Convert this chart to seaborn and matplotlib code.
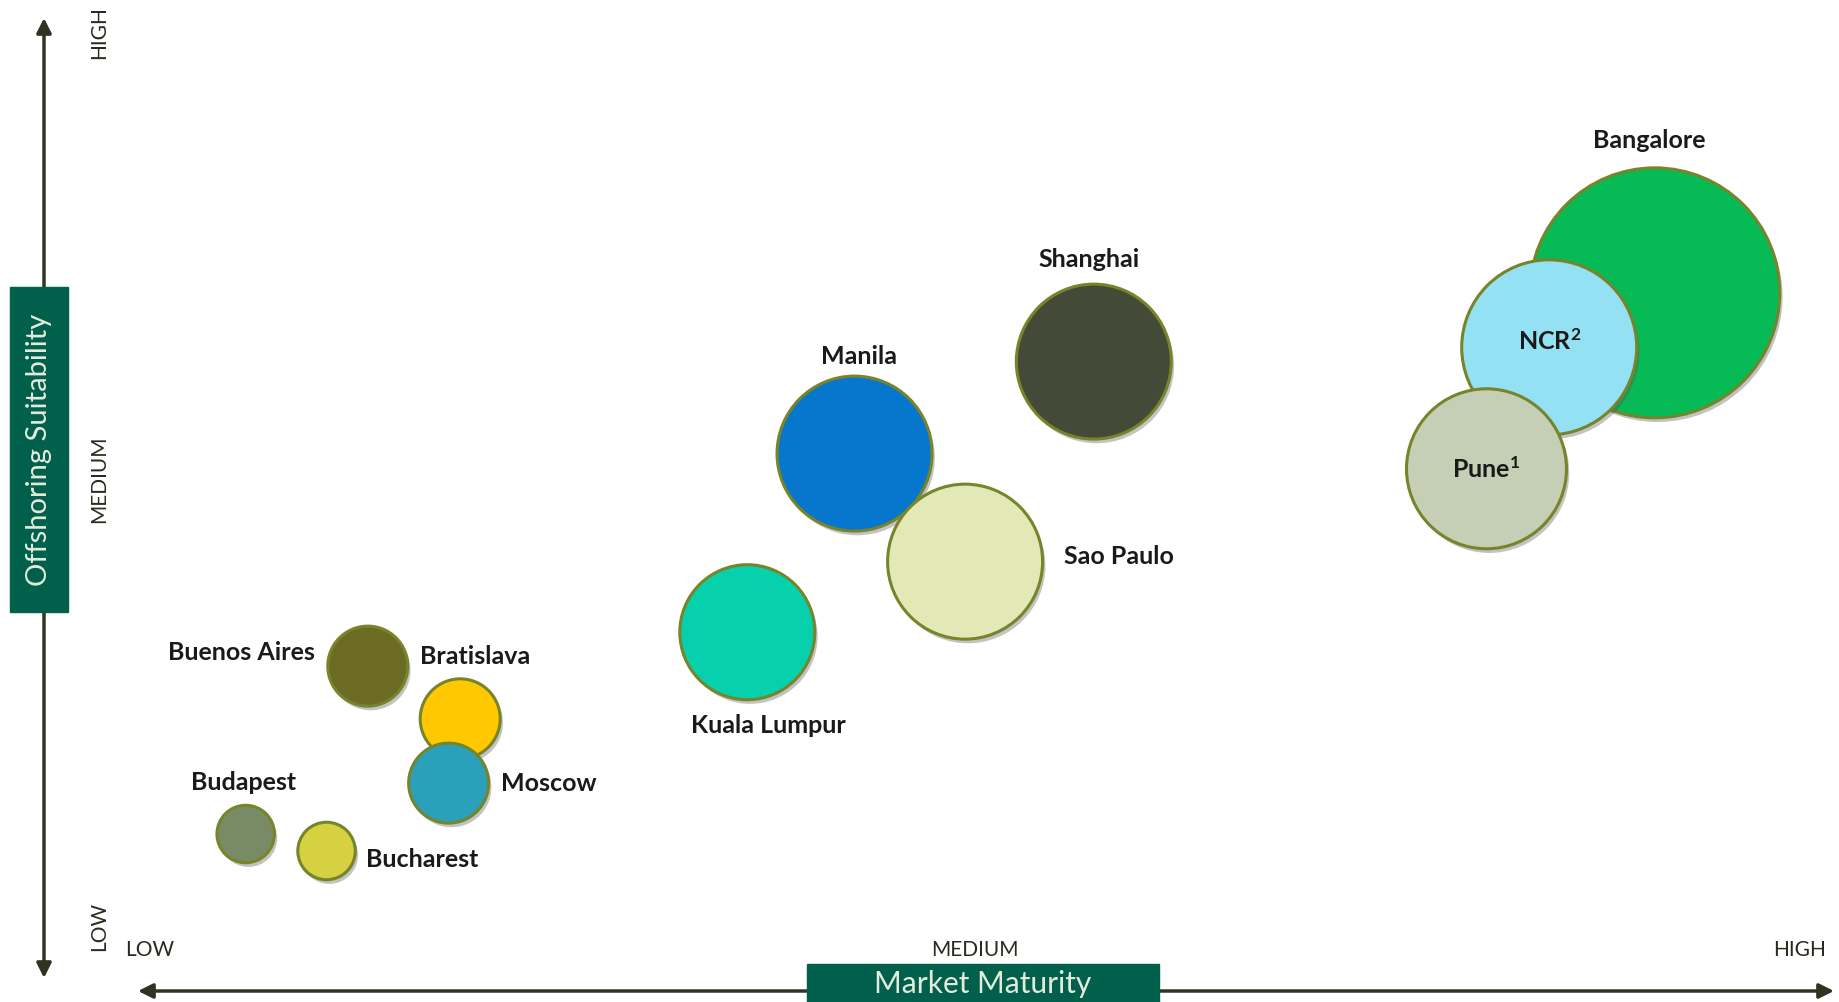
import pandas as pd
import matplotlib.pyplot as plt
import matplotlib.patheffects as pe
from matplotlib.patches import Rectangle
import seaborn as sns

# --- Data (0 = low, 5 = medium, 10 = high) ---
cities = ["Bangalore", "NCR$^{2}$", "Pune$^{1}$", "Shanghai", "Manila", "Sao Paulo",
          "Kuala Lumpur", "Buenos Aires", "Bratislava", "Moscow", "Budapest", "Bucharest"]
market_maturity = [9.12, 8.48, 8.10, 5.72, 4.27, 4.94, 3.62, 1.32, 1.88, 1.81, 0.58, 1.07]
offshoring_suitability = [7.09, 6.48, 5.12, 6.32, 5.29, 4.08, 3.29, 2.91, 2.32, 1.60, 1.03, 0.84]
bubble_size = [10.0, 7.0, 6.4, 6.2, 6.2, 6.2, 5.4, 3.2, 3.2, 3.2, 2.3, 2.3]
levels = ["LOW", "MEDIUM", "HIGH"]

colors = ["#06BA56", "#95E1F4", "#C5CFB5", "#434B38", "#0677CC", "#E2E9B7",
          "#07D1AD", "#6C6B24", "#FFC800", "#2AA0BA", "#798B64", "#D5D140"]

# label placement: (dx px, dy px, ha)
label_pos = {
    "Bangalore": (-6, 152, "center"),
    "NCR$^{2}$": (0, 6, "center"),
    "Pune$^{1}$": (0, 0, "center"),
    "Shanghai": (-5, 102, "center"),
    "Manila": (4, 97, "center"),
    "Sao Paulo": (99, 5, "left"),
    "Kuala Lumpur": (21, -93, "center"),
    "Buenos Aires": (-53, 14, "right"),
    "Bratislava": (-40, 62, "left"),
    "Moscow": (52, 0, "left"),
    "Budapest": (-2, 52, "center"),
    "Bucharest": (39, -9, "left"),
}

W, H, DPI = 1839, 1002, 100
PX = 72 / DPI  # px -> points

df = pd.DataFrame({"city": cities, "x": market_maturity,
                   "y": offshoring_suitability, "size": bubble_size})
# bubble radius 12.5 px per size unit -> scatter area in pt^2
df["s"] = (2 * df["size"] * 12.5 * PX) ** 2

sns.set_theme(style="white")
plt.rcParams["font.family"] = ["Lato", "DejaVu Sans"]
plt.rcParams["mathtext.fontset"] = "custom"
plt.rcParams["mathtext.bf"] = "Lato:bold"
plt.rcParams["mathtext.rm"] = "Lato:bold"
plt.rcParams["mathtext.default"] = "bf"

fig = plt.figure(figsize=(W / DPI, H / DPI), dpi=DPI)
ax = fig.add_axes([0, 0, 1, 1])
ax.set_xlim(-150 / 165, (W - 150) / 165)
ax.set_ylim((926 - H) / 89.3, 926 / 89.3)
ax.axis("off")

edge = "#77842A"
shadow = [pe.SimplePatchShadow(offset=(2, -3), shadow_rgbFace="#555555", alpha=0.35), pe.Normal()]
for i, row in df.iterrows():
    pts = ax.scatter(row["x"], row["y"], s=row["s"], color=colors[i],
                     edgecolor=edge, linewidth=2.2, zorder=3 + i)
    pts.set_path_effects(shadow)

for i, row in df.iterrows():
    dx, dy, ha = label_pos[row["city"]]
    ax.annotate(row["city"], (row["x"], row["y"]), xytext=(dx * PX, dy * PX),
                textcoords="offset points", ha=ha, va="center",
                fontsize=18, fontweight="bold", color="#1A1A1A", zorder=30)

# axis arrows
arrow_col = "#2F3322"
ax.annotate("", xy=(44 / W, 1 - 18 / H), xytext=(44 / W, 1 - 978 / H),
            xycoords="axes fraction", textcoords="axes fraction",
            arrowprops=dict(arrowstyle="<|-|>", color=arrow_col, lw=2.5,
                            mutation_scale=22, shrinkA=0, shrinkB=0))
ax.annotate("", xy=(1834 / W, 1 - 991 / H), xytext=(138 / W, 1 - 991 / H),
            xycoords="axes fraction", textcoords="axes fraction",
            arrowprops=dict(arrowstyle="<|-|>", color=arrow_col, lw=2.5,
                            mutation_scale=22, shrinkA=0, shrinkB=0))

# level labels
for k, lev in enumerate(levels):
    v = k * 5
    ax.text(v, -0.27, lev, ha="center", va="center", fontsize=15, color="#2A2A1E")
    ax.text(-0.31, v, lev, ha="center", va="center",
            rotation=90, fontsize=15, color="#2A2A1E")

# title boxes
box_col = "#00604C"
txt_col = "#E3EBDD"
ax.add_patch(Rectangle((10 / W, 1 - 612 / H), 58 / W, 325 / H, transform=ax.transAxes,
                       color=box_col, zorder=20))
ax.text(39 / W, 1 - 450 / H, "Offshoring Suitability", transform=ax.transAxes,
        rotation=90, ha="center", va="center", fontsize=21, color=txt_col, zorder=21)
ax.add_patch(Rectangle((807 / W, 0), 352 / W, 38 / H, transform=ax.transAxes,
                       color=box_col, zorder=20))
ax.text(983 / W, 1 - 984 / H, "Market Maturity", transform=ax.transAxes,
        ha="center", va="center", fontsize=21.5, color=txt_col, zorder=21)

fig.savefig("out.png", dpi=DPI)
